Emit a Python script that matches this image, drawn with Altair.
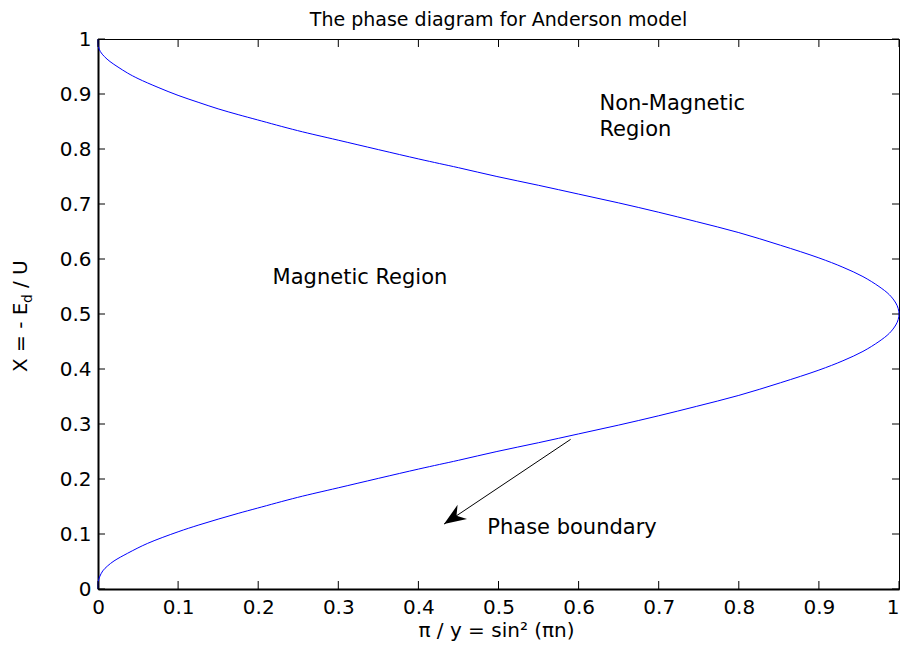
import math
import altair as alt
import pandas as pd

# ---- values ----
# lower branch of the phase boundary (x = pi/y, X = -Ed/U), from X = 0 up to the vertex
lower_x = [0.0, 0.0, 0.002, 0.006, 0.012, 0.020, 0.037, 0.062, 0.100, 0.125, 0.150, 0.175,
           0.199, 0.249, 0.300, 0.400, 0.450, 0.498, 0.550, 0.600, 0.650, 0.700,
           0.747, 0.800, 0.852, 0.900, 0.930, 0.955, 0.975, 0.988, 0.996, 0.999, 1.000]
lower_X = [0.000, 0.012, 0.022, 0.033, 0.042, 0.051, 0.065, 0.083, 0.104, 0.116, 0.127, 0.1375,
           0.147, 0.1665, 0.184, 0.218, 0.234, 0.250, 0.266, 0.282, 0.298, 0.315,
           0.332, 0.352, 0.375, 0.398, 0.415, 0.432, 0.450, 0.465, 0.480, 0.490, 0.500]
# upper branch, from the vertex up to X = 1
upper_x = [1.000, 0.999, 0.996, 0.988, 0.975, 0.955, 0.930, 0.900, 0.852, 0.800, 0.747, 0.700,
           0.650, 0.600, 0.550, 0.498, 0.450, 0.400, 0.300, 0.249, 0.199, 0.175, 0.150,
           0.125, 0.100, 0.075, 0.050, 0.037, 0.025, 0.015, 0.008, 0.003, 0.0005, 0.0, 0.0]
upper_X = [0.500, 0.510, 0.520, 0.535, 0.550, 0.568, 0.585, 0.602, 0.625, 0.648, 0.668, 0.685,
           0.702, 0.718, 0.734, 0.750, 0.766, 0.782, 0.816, 0.8335, 0.853, 0.8625, 0.873,
           0.885, 0.8975, 0.912, 0.928, 0.938, 0.949, 0.959, 0.968, 0.977, 0.986, 0.992, 1.000]

tick_values = [0, 0.1, 0.2, 0.3, 0.4, 0.5, 0.6, 0.7, 0.8, 0.9, 1]

arrow_x = [0.590, 0.432]   # start, tip
arrow_y = [0.272, 0.118]

ann_text = ["Non-Magnetic", "Region", "Magnetic Region", "Phase boundary"]
ann_x = [0.626, 0.626, 0.218, 0.486]
ann_y = [0.882, 0.835, 0.565, 0.111]

title_text = "The phase diagram for Anderson model"
x_title = "π / y = sin² (πn)"
y_title_parts = ["X = - E", "d", "/ U"]

# ---- layout / style ----
W, H = 801, 550
FONT = "DejaVu Sans"
FS = 20

xs = alt.Scale(domain=[0, 1], nice=False, zero=False)
ys = alt.Scale(domain=[0, 1], nice=False, zero=False)

axis_common = dict(values=tick_values, format=".1~f", labelFont=FONT, labelFontSize=FS,
                   labelColor="black", ticks=False, tickSize=0, grid=False, domain=True,
                   domainColor="black", domainWidth=2, labelFlush=False, labelOverlap=False,
                   labelBound=False, title="")
x_axis = alt.Axis(labelPadding=8,
                  labelAlign=alt.condition("datum.value == 1", alt.value("right"), alt.value("center")),
                  **axis_common)
y_axis = alt.Axis(labelPadding=7, **axis_common)

def X(field):
    return alt.X(field, type="quantitative", scale=xs, axis=x_axis)

def Y(field):
    return alt.Y(field, type="quantitative", scale=ys, axis=y_axis)

curve = pd.DataFrame({"x": lower_x + upper_x[1:], "X": lower_X + upper_X[1:]})
curve["o"] = range(len(curve))

line = alt.Chart(curve).mark_line(color="#0000ff", strokeWidth=1, interpolate="catmull-rom").encode(
    x=X("x"), y=Y("X"), order=alt.Order("o:Q"))

tdf = pd.DataFrame({"v": tick_values})
rule_style = dict(color="black", strokeWidth=1)
tick_bottom = alt.Chart(tdf).mark_rule(**rule_style).encode(
    x=X("v"), y=alt.value(H), y2=alt.value(H - 8))
tick_top = alt.Chart(tdf).mark_rule(**rule_style).encode(
    x=X("v"), y=alt.value(0), y2=alt.value(8))
tick_left = alt.Chart(tdf).mark_rule(**rule_style).encode(
    y=Y("v"), x=alt.value(0), x2=alt.value(7))
tick_right = alt.Chart(tdf).mark_rule(**rule_style).encode(
    y=Y("v"), x=alt.value(W), x2=alt.value(W - 7))

ann = alt.Chart(pd.DataFrame({"t": ann_text, "x": ann_x, "y": ann_y})).mark_text(
    font=FONT, fontSize=21, align="left", baseline="middle", color="black").encode(
    x=X("x"), y=Y("y"), text="t:N")

arrow_df = pd.DataFrame({"x": arrow_x, "y": arrow_y, "o": [0, 1]})
arrow_line = alt.Chart(arrow_df).mark_line(color="black", strokeWidth=1).encode(
    x=X("x"), y=Y("y"), order=alt.Order("o:Q"))

dx = (arrow_x[1] - arrow_x[0]) * W
dy = -(arrow_y[1] - arrow_y[0]) * H
head_angle = math.degrees(math.atan2(dx, -dy)) % 360
ARROW = "M0,0 L0.85,2.2 L0,1.5 L-0.85,2.2 Z"
arrow_head = alt.Chart(pd.DataFrame({"x": [arrow_x[1]], "y": [arrow_y[1]]})).mark_point(
    shape=ARROW, size=400, angle=head_angle, filled=True, color="black", opacity=1,
    strokeWidth=0).encode(x=X("x"), y=Y("y"))

def label(text, x, y, size=FS, angle=0, align="center"):
    return alt.Chart(pd.DataFrame({"t": [text]})).mark_text(
        font=FONT, fontSize=size, align=align, baseline="alphabetic", color="black",
        angle=angle).encode(text="t:N", x=alt.value(x), y=alt.value(y))

title = label(title_text, W / 2, -13, size=19)
xt = label(x_title, W / 2 - 2, H + 48)
yt1 = label(y_title_parts[0], -71, 333, angle=270, align="left")
yt2 = label(y_title_parts[1], -66, 264, size=14, angle=270, align="left")
yt3 = label(y_title_parts[2], -71, 249, angle=270, align="left")

chart = alt.layer(
    line, tick_bottom, tick_top, tick_left, tick_right, ann, arrow_line, arrow_head,
    title, xt, yt1, yt2, yt3
).properties(
    width=W, height=H,
    autosize=alt.AutoSizeParams(type="none"),
    padding={"left": 90, "top": 31, "right": 1, "bottom": 56},
    background="white",
).configure_view(stroke="black", strokeWidth=1)

chart.save("out.html", embed_options={"renderer": "svg", "actions": False})
